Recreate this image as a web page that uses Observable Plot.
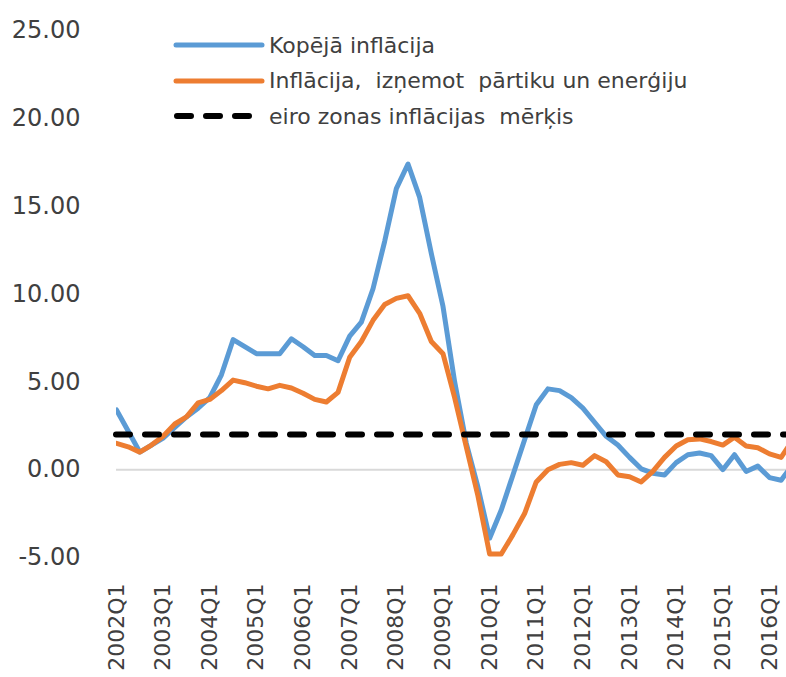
<!DOCTYPE html>
<html>
<head>
<meta charset="utf-8">
<script src="https://cdn.jsdelivr.net/npm/d3@7"></script>
<script src="https://cdn.jsdelivr.net/npm/@observablehq/plot@0.6"></script>
<style>
  html, body { margin: 0; padding: 0; background: #fff; overflow: hidden; }
  #wrap { position: relative; width: 786px; height: 677px; overflow: hidden; }
  #legend { position: absolute; left: 0; top: 0; width: 786px; height: 140px; pointer-events: none; }
  #legend .row { position: absolute; left: 172px; height: 30px; display: flex; align-items: center;
                 font-family: "DejaVu Sans", sans-serif; font-size: 22px; color: #404040; white-space: pre; }
  #legend svg { display: block; }
</style>
</head>
<body>
<div id="wrap">
  <div id="chart"></div>
  <div id="legend"></div>
</div>
<script>
// ---- data ----
const years = [2002, 2003, 2004, 2005, 2006, 2007, 2008, 2009, 2010, 2011, 2012, 2013, 2014, 2015, 2016];
const quarterNames = ["Q1", "Q2", "Q3", "Q4"];
const quarters = years.flatMap(y => quarterNames.map(q => y + q)).slice(0, 59);

// Kopējā inflācija (headline), % y/y
const headline = [
  3.4, 2.2, 1.0, 1.4, 1.8, 2.4, 3.0, 3.5,
  4.1, 5.4, 7.4, 7.0, 6.6, 6.6, 6.6, 7.45,
  7.0, 6.5, 6.5, 6.2, 7.6, 8.4, 10.3, 13.0,
  16.0, 17.4, 15.5, 12.3, 9.3, 5.0, 1.5, -1.0,
  -3.9, -2.3, -0.3, 1.7, 3.7, 4.6, 4.5, 4.1,
  3.5, 2.7, 1.9, 1.4, 0.7, 0.05, -0.2, -0.3,
  0.4, 0.85, 0.95, 0.8, 0.0, 0.85, -0.1, 0.2,
  -0.45, -0.6, 0.3
];

// Inflācija, izņemot pārtiku un enerģiju (core), % y/y
const core = [
  1.5, 1.3, 1.0, 1.4, 1.9, 2.6, 3.0, 3.8,
  4.0, 4.5, 5.1, 4.95, 4.75, 4.6, 4.8, 4.65,
  4.35, 4.0, 3.85, 4.4, 6.4, 7.3, 8.5, 9.4,
  9.75, 9.9, 8.9, 7.3, 6.6, 4.1, 1.3, -1.5,
  -4.8, -4.8, -3.7, -2.5, -0.7, 0.0, 0.3, 0.4,
  0.25, 0.8, 0.45, -0.3, -0.4, -0.7, -0.1, 0.7,
  1.35, 1.7, 1.75, 1.6, 1.4, 1.85, 1.35, 1.25,
  0.9, 0.7, 1.7
];

// eiro zonas inflācijas mērķis
const target = 2;

const seriesNames = ["Kopējā inflācija", "Inflācija,  izņemot  pārtiku un enerģiju", "eiro zonas inflācijas  mērķis"];
const seriesColors = ["#5B9BD5", "#ED7D31", "#000000"];
const yTicks = [-5, 0, 5, 10, 15, 20, 25];
const xTicks = quarters.filter(q => q.endsWith("Q1"));

// ---- chart ----
const W = 786, H = 677;
const left = 116, step = 11.66;

const chart = Plot.plot({
  width: W,
  height: H,
  marginLeft: left,
  marginRight: 0,
  marginTop: 30,
  marginBottom: 120,
  style: { fontFamily: "DejaVu Sans, sans-serif", color: "#404040", background: "#fff", overflow: "hidden" },
  x: { type: "point", domain: quarters, padding: 0, range: [left, left + (quarters.length - 1) * step] },
  y: { domain: [-5, 25] },
  marks: [
    Plot.ruleY([0], { stroke: "#d9d9d9", strokeWidth: 2 }),
    Plot.line(headline, { x: (d, i) => quarters[i], y: d => d, stroke: seriesColors[0], strokeWidth: 5,
      strokeLinejoin: "round", strokeLinecap: "round", clip: true }),
    Plot.line(core, { x: (d, i) => quarters[i], y: d => d, stroke: seriesColors[1], strokeWidth: 5,
      strokeLinejoin: "round", strokeLinecap: "round", clip: true }),
    Plot.ruleY([target], { stroke: seriesColors[2], strokeWidth: 6, strokeDasharray: "14 15", strokeLinecap: "round" }),
    Plot.axisY({ ticks: yTicks, tickFormat: d => d.toFixed(2), tickSize: 0, tickPadding: 36, fontSize: 24 }),
    Plot.axisX({ ticks: xTicks, tickRotate: -90, tickSize: 0, tickPadding: 26, fontSize: 22 })
  ]
});
document.getElementById("chart").appendChild(chart);

// ---- legend (overlaid at top of plot area) ----
const legend = document.getElementById("legend");
const rowY = [45, 80.5, 116];
seriesNames.forEach((name, i) => {
  const row = document.createElement("div");
  row.className = "row";
  row.style.top = (rowY[i] - 15) + "px";
  const ns = "http://www.w3.org/2000/svg";
  const svg = document.createElementNS(ns, "svg");
  svg.setAttribute("width", 97);
  svg.setAttribute("height", 30);
  const ln = document.createElementNS(ns, "line");
  ln.setAttribute("y1", 15); ln.setAttribute("y2", 15);
  ln.setAttribute("stroke", seriesColors[i]);
  ln.setAttribute("stroke-linecap", "round");
  if (i === 2) {
    ln.setAttribute("x1", 5); ln.setAttribute("x2", 80);
    ln.setAttribute("stroke-width", 6);
    ln.setAttribute("stroke-dasharray", "14 15");
  } else {
    ln.setAttribute("x1", 4); ln.setAttribute("x2", 90);
    ln.setAttribute("stroke-width", 5);
  }
  svg.appendChild(ln);
  row.appendChild(svg);
  const t = document.createElement("span");
  t.textContent = name;
  row.appendChild(t);
  legend.appendChild(row);
});
</script>
</body>
</html>
